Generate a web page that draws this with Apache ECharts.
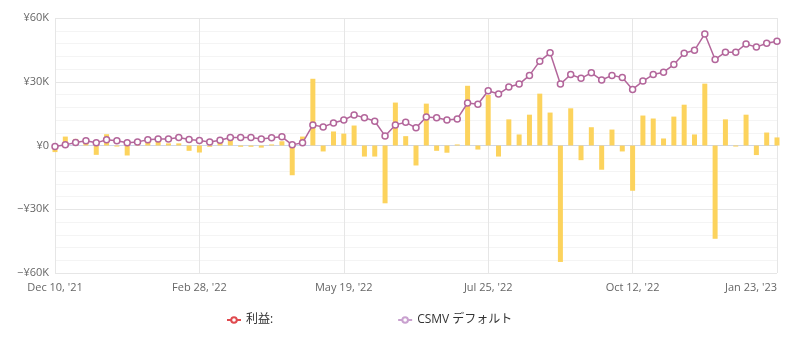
<!DOCTYPE html>
<html>
<head>
<meta charset="utf-8">
<script src="https://cdn.jsdelivr.net/npm/echarts@6/dist/echarts.min.js"></script>
<style>
html,body{margin:0;padding:0;background:#fff;}
#chart{width:788px;height:343px;}
</style>
</head>
<body>
<div id="chart"></div>
<script>
// Tick labels shown every 14th point (71 points in total)
const tickLabels = ["Dec 10, '21", "Feb 28, '22", "May 19, '22", "Jul 25, '22", "Oct 12, '22", "Jan 23, '23"];
const labelEvery = 14;

// 利益 (bars), yen
const profit = [
  -3100, 4200, 3100, 2000, -4400, 5300, -500, -4700, 1400, 2200,
  1700, 1000, 1000, -2500, -3300, -600, 1900, 3000, -600, -600,
  -1000, 500, 2000, -14000, 4200, 31400, -2800, 6600, 5600, 9400,
  -5200, -5200, -27200, 20200, 4400, -9400, 19700, -2500, -3400, 500,
  28100, -1900, 23800, -5200, 12300, 5200, 14500, 24400, 15500, -54800,
  17500, -6900, 8600, -11400, 7500, -2800, -21300, 14100, 12700, 3300,
  13600, 19200, 5200, 29100, -43900, 12300, -500, 14500, -4500, 6100,
  3800
];

// CSMV デフォルト (line), yen
const csmv = [
  -500, 300, 1400, 2200, 1250, 2700, 2200, 1250, 1700, 2700,
  3100, 3100, 3750, 2800, 2300, 1600, 2500, 3750, 3750, 3750,
  3100, 3600, 4100, 300, 1250, 9700, 8750, 10600, 12000, 14400,
  13100, 11400, 4500, 9700, 10900, 8300, 13400, 13100, 12000, 12500,
  20000, 19400, 25800, 24200, 27500, 28900, 33000, 39700, 43600, 28900,
  33400, 31600, 34200, 30800, 33000, 32000, 26400, 30300, 33400, 34500,
  38100, 43400, 44800, 52500, 40500, 43900, 43900, 47800, 46300, 48100,
  49100
];

const categories = profit.map((_, i) => String(i));

const FONT = "'Open Sans', 'Noto Sans CJK JP', sans-serif";

const chart = echarts.init(document.getElementById('chart'), null, {renderer: 'canvas'});
chart.setOption({
  animation: false,
  textStyle: {fontFamily: FONT},
  grid: {left: 55, right: 11, top: 18, bottom: 70, containLabel: false},
  legend: {
    left: 221, top: 309,
    itemWidth: 14, itemHeight: 7, itemGap: 124,
    textStyle: {fontFamily: FONT, fontSize: 12, color: '#333'},
    data: [
      {name: '利益:'},
      {name: 'CSMV デフォルト', itemStyle: {color: '#fff', borderColor: '#c9a1cf'}, lineStyle: {color: '#c9a1cf'}}
    ]
  },
  xAxis: {
    type: 'category',
    data: categories,
    boundaryGap: false,
    axisLine: {show: true, lineStyle: {color: '#ccd6eb', width: 1}},
    axisTick: {show: false},
    axisLabel: {
      interval: labelEvery - 1,
      color: '#666', fontSize: 11, fontFamily: FONT, margin: 9,
      alignMaxLabel: 'right',
      formatter: (v, i) => tickLabels[Math.round(Number(v) / labelEvery)] || ''
    },
    splitLine: {show: true, interval: labelEvery - 1, lineStyle: {color: '#e6e6e6', width: 1}}
  },
  yAxis: {
    type: 'value',
    min: -60000, max: 60000, interval: 30000,
    axisLine: {show: false},
    axisTick: {show: false},
    axisLabel: {
      color: '#666', fontSize: 11, fontFamily: FONT, margin: 6,
      formatter: v => v === 0 ? '¥0' : (v < 0 ? '−¥' : '¥') + Math.abs(v / 1000) + 'K'
    },
    splitLine: {show: true, lineStyle: {color: '#e6e6e6', width: 1}},
    minorTick: {show: false, splitNumber: 5},
    minorSplitLine: {show: true, lineStyle: {color: '#f4f4f4', width: 1}}
  },
  series: [
    {
      name: '利益:', type: 'line', data: [],
      color: '#e04a4f',
      symbol: 'emptyCircle', symbolSize: 5,
      lineStyle: {color: '#e04a4f', width: 1.5},
      itemStyle: {color: '#e04a4f', borderColor: '#e04a4f'}
    },
    {
      name: '利益:', type: 'bar', data: profit,
      barWidth: 5,
      itemStyle: {color: '#fcd35d'}
    },
    {
      name: 'CSMV デフォルト', type: 'line', data: csmv,
      symbol: 'circle', symbolSize: 6,
      lineStyle: {color: '#b3669b', width: 1.5},
      itemStyle: {color: '#ffffff', borderColor: '#b3669b', borderWidth: 1.5},
      z: 3
    }
  ]
});
</script>
</body>
</html>
